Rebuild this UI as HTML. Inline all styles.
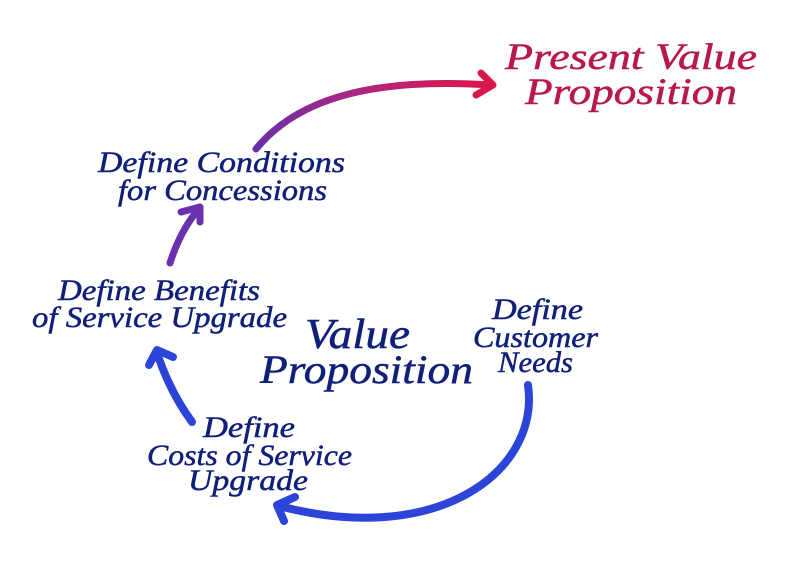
<!DOCTYPE html>
<html>
<head>
<meta charset="utf-8">
<style>
  html, body { margin: 0; padding: 0; background: #ffffff; }
  body { width: 800px; height: 563px; overflow: hidden; }
  svg { display: block; }
  .t { font-family: "Liberation Serif", "DejaVu Serif", serif; font-style: italic; fill: #10207a; stroke: #10207a; stroke-width: 0.5; }
  .r { font-family: "Liberation Serif", "DejaVu Serif", serif; font-style: italic; fill: #b8184f; stroke: #b8184f; stroke-width: 0.5; }
</style>
</head>
<body>
<svg width="800" height="563" viewBox="0 0 800 563" xmlns="http://www.w3.org/2000/svg">
  <defs>
    <linearGradient id="g1" gradientUnits="userSpaceOnUse" x1="256" y1="120" x2="495" y2="85">
      <stop offset="0" stop-color="#6c2fa8"/>
      <stop offset="0.45" stop-color="#b0267e"/>
      <stop offset="1" stop-color="#de1644"/>
    </linearGradient>
  </defs>
  <rect width="800" height="563" fill="#ffffff"/>

  <!-- Top gradient arrow -->
  <path d="M 256 149 C 300 95, 380 78, 491 85" fill="none" stroke="url(#g1)" stroke-width="7" stroke-linecap="round"/>
  <path d="M 481 73 L 493 85 L 476 95" fill="none" stroke="#d8174a" stroke-width="7" stroke-linecap="round" stroke-linejoin="round"/>

  <!-- Short purple arrow -->
  <path d="M 170 263 Q 181 229 199 209" fill="none" stroke="#6a32b0" stroke-width="7" stroke-linecap="round"/>
  <path d="M 181 212 L 200 207 L 200 222" fill="none" stroke="#6a32b0" stroke-width="7" stroke-linecap="round" stroke-linejoin="round"/>

  <!-- Left blue arrow -->
  <path d="M 192 422 Q 170 392 157 353" fill="none" stroke="#2c45d8" stroke-width="8" stroke-linecap="round"/>
  <path d="M 149 365 L 157 350 L 173 357" fill="none" stroke="#2c45d8" stroke-width="8" stroke-linecap="round" stroke-linejoin="round"/>

  <!-- Big bottom arc arrow -->
  <path d="M 528 385 C 540 470, 440 548, 279 506" fill="none" stroke="#2c45d8" stroke-width="8" stroke-linecap="round"/>
  <path d="M 295 497 L 277 505 L 284 521" fill="none" stroke="#2c45d8" stroke-width="8" stroke-linecap="round" stroke-linejoin="round"/>

  <!-- Title -->
  <text class="r" x="505" y="69" font-size="37" textLength="252" lengthAdjust="spacingAndGlyphs">Present Value</text>
  <text class="r" x="525" y="104" font-size="37" textLength="212" lengthAdjust="spacingAndGlyphs">Proposition</text>

  <!-- Define Conditions -->
  <text class="t" x="98" y="172" font-size="30" textLength="247" lengthAdjust="spacingAndGlyphs">Define Conditions</text>
  <text class="t" x="118" y="200" font-size="30" textLength="209" lengthAdjust="spacingAndGlyphs">for Concessions</text>

  <!-- Define Benefits -->
  <text class="t" x="58" y="300" font-size="30" textLength="202" lengthAdjust="spacingAndGlyphs">Define Benefits</text>
  <text class="t" x="32" y="327" font-size="30" textLength="255" lengthAdjust="spacingAndGlyphs">of Service Upgrade</text>

  <!-- Center -->
  <text class="t" x="305" y="348" font-size="42" textLength="105" lengthAdjust="spacingAndGlyphs">Value</text>
  <text class="t" x="260" y="383" font-size="40" textLength="213" lengthAdjust="spacingAndGlyphs">Proposition</text>

  <!-- Define Customer Needs -->
  <text class="t" x="492" y="319" font-size="30" textLength="91" lengthAdjust="spacingAndGlyphs">Define</text>
  <text class="t" x="473" y="347" font-size="30" textLength="125" lengthAdjust="spacingAndGlyphs">Customer</text>
  <text class="t" x="498" y="372" font-size="30" textLength="75" lengthAdjust="spacingAndGlyphs">Needs</text>

  <!-- Define Costs -->
  <text class="t" x="203" y="437" font-size="30" textLength="92" lengthAdjust="spacingAndGlyphs">Define</text>
  <text class="t" x="147" y="465" font-size="30" textLength="205" lengthAdjust="spacingAndGlyphs">Costs of Service</text>
  <text class="t" x="188" y="490" font-size="30" textLength="120" lengthAdjust="spacingAndGlyphs">Upgrade</text>
</svg>
</body>
</html>
